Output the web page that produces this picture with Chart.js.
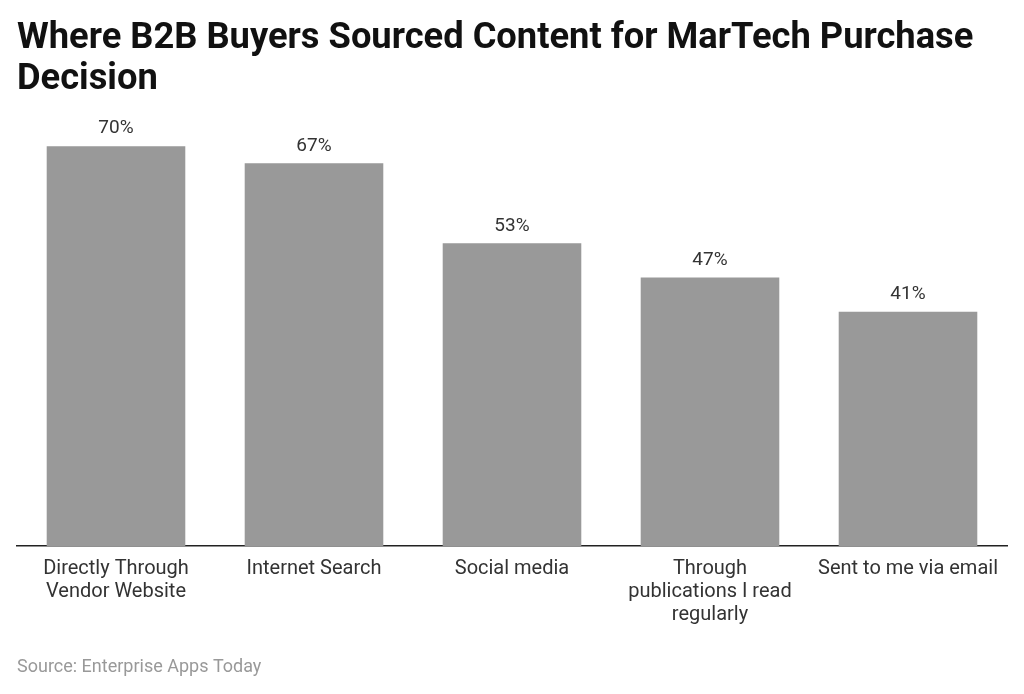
<!DOCTYPE html>
<html>
<head>
<meta charset="utf-8">
<script src="https://cdn.jsdelivr.net/npm/chart.js@4.4.1/dist/chart.umd.min.js"></script>
<style>
  html, body { margin: 0; padding: 0; background: #fff; }
  #wrap { width: 1024px; height: 694px; position: relative; }
</style>
</head>
<body>
<div id="wrap"><canvas id="chart"></canvas></div>
<script>
// data
const categories = [
  ['Directly Through', 'Vendor Website'],
  'Internet Search',
  'Social media',
  ['Through', 'publications I read', 'regularly'],
  'Sent to me via email'
];
const shares = [70, 67, 53, 47, 41];
const titleLines = ['Where B2B Buyers Sourced Content for MarTech Purchase', 'Decision'];
const sourceText = 'Source: Enterprise Apps Today';

// value labels above each bar + source line at the bottom
const labelPlugin = {
  id: 'labels',
  afterDatasetsDraw(chart) {
    const ctx = chart.ctx;
    const meta = chart.getDatasetMeta(0);
    ctx.save();
    ctx.font = '19px Roboto';
    ctx.fillStyle = '#333';
    ctx.textAlign = 'center';
    ctx.textBaseline = 'bottom';
    meta.data.forEach((bar, i) => {
      ctx.fillText(shares[i] + '%', bar.x, bar.y - 8);
    });
    ctx.font = '18px Roboto';
    ctx.fillStyle = '#999';
    ctx.textAlign = 'left';
    ctx.textBaseline = 'alphabetic';
    ctx.fillText(sourceText, 17, 672);
    ctx.restore();
  }
};

new Chart(document.getElementById('chart'), {
  type: 'bar',
  data: {
    labels: categories,
    datasets: [{
      data: shares,
      backgroundColor: '#999999',
      barPercentage: 0.7,
      categoryPercentage: 1
    }]
  },
  options: {
    responsive: true,
    maintainAspectRatio: false,
    animation: false,
    layout: { padding: { left: 17, right: 17, top: 0, bottom: 65 } },
    plugins: {
      legend: { display: false },
      tooltip: { enabled: false },
      title: {
        display: true,
        text: titleLines,
        align: 'start',
        color: '#111',
        font: { family: 'Roboto', size: 36.3, weight: 'bold', lineHeight: 1.14 },
        padding: { top: 18, bottom: 2 }
      }
    },
    scales: {
      x: {
        grid: { display: false },
        border: { color: '#222', width: 1.5 },
        ticks: { color: '#333', font: { family: 'Roboto', size: 20, lineHeight: 1.15 }, maxRotation: 0, autoSkip: false, padding: 3 }
      },
      y: { display: false, min: 0, max: 77.6 }
    }
  },
  plugins: [labelPlugin]
});
</script>
</body>
</html>
